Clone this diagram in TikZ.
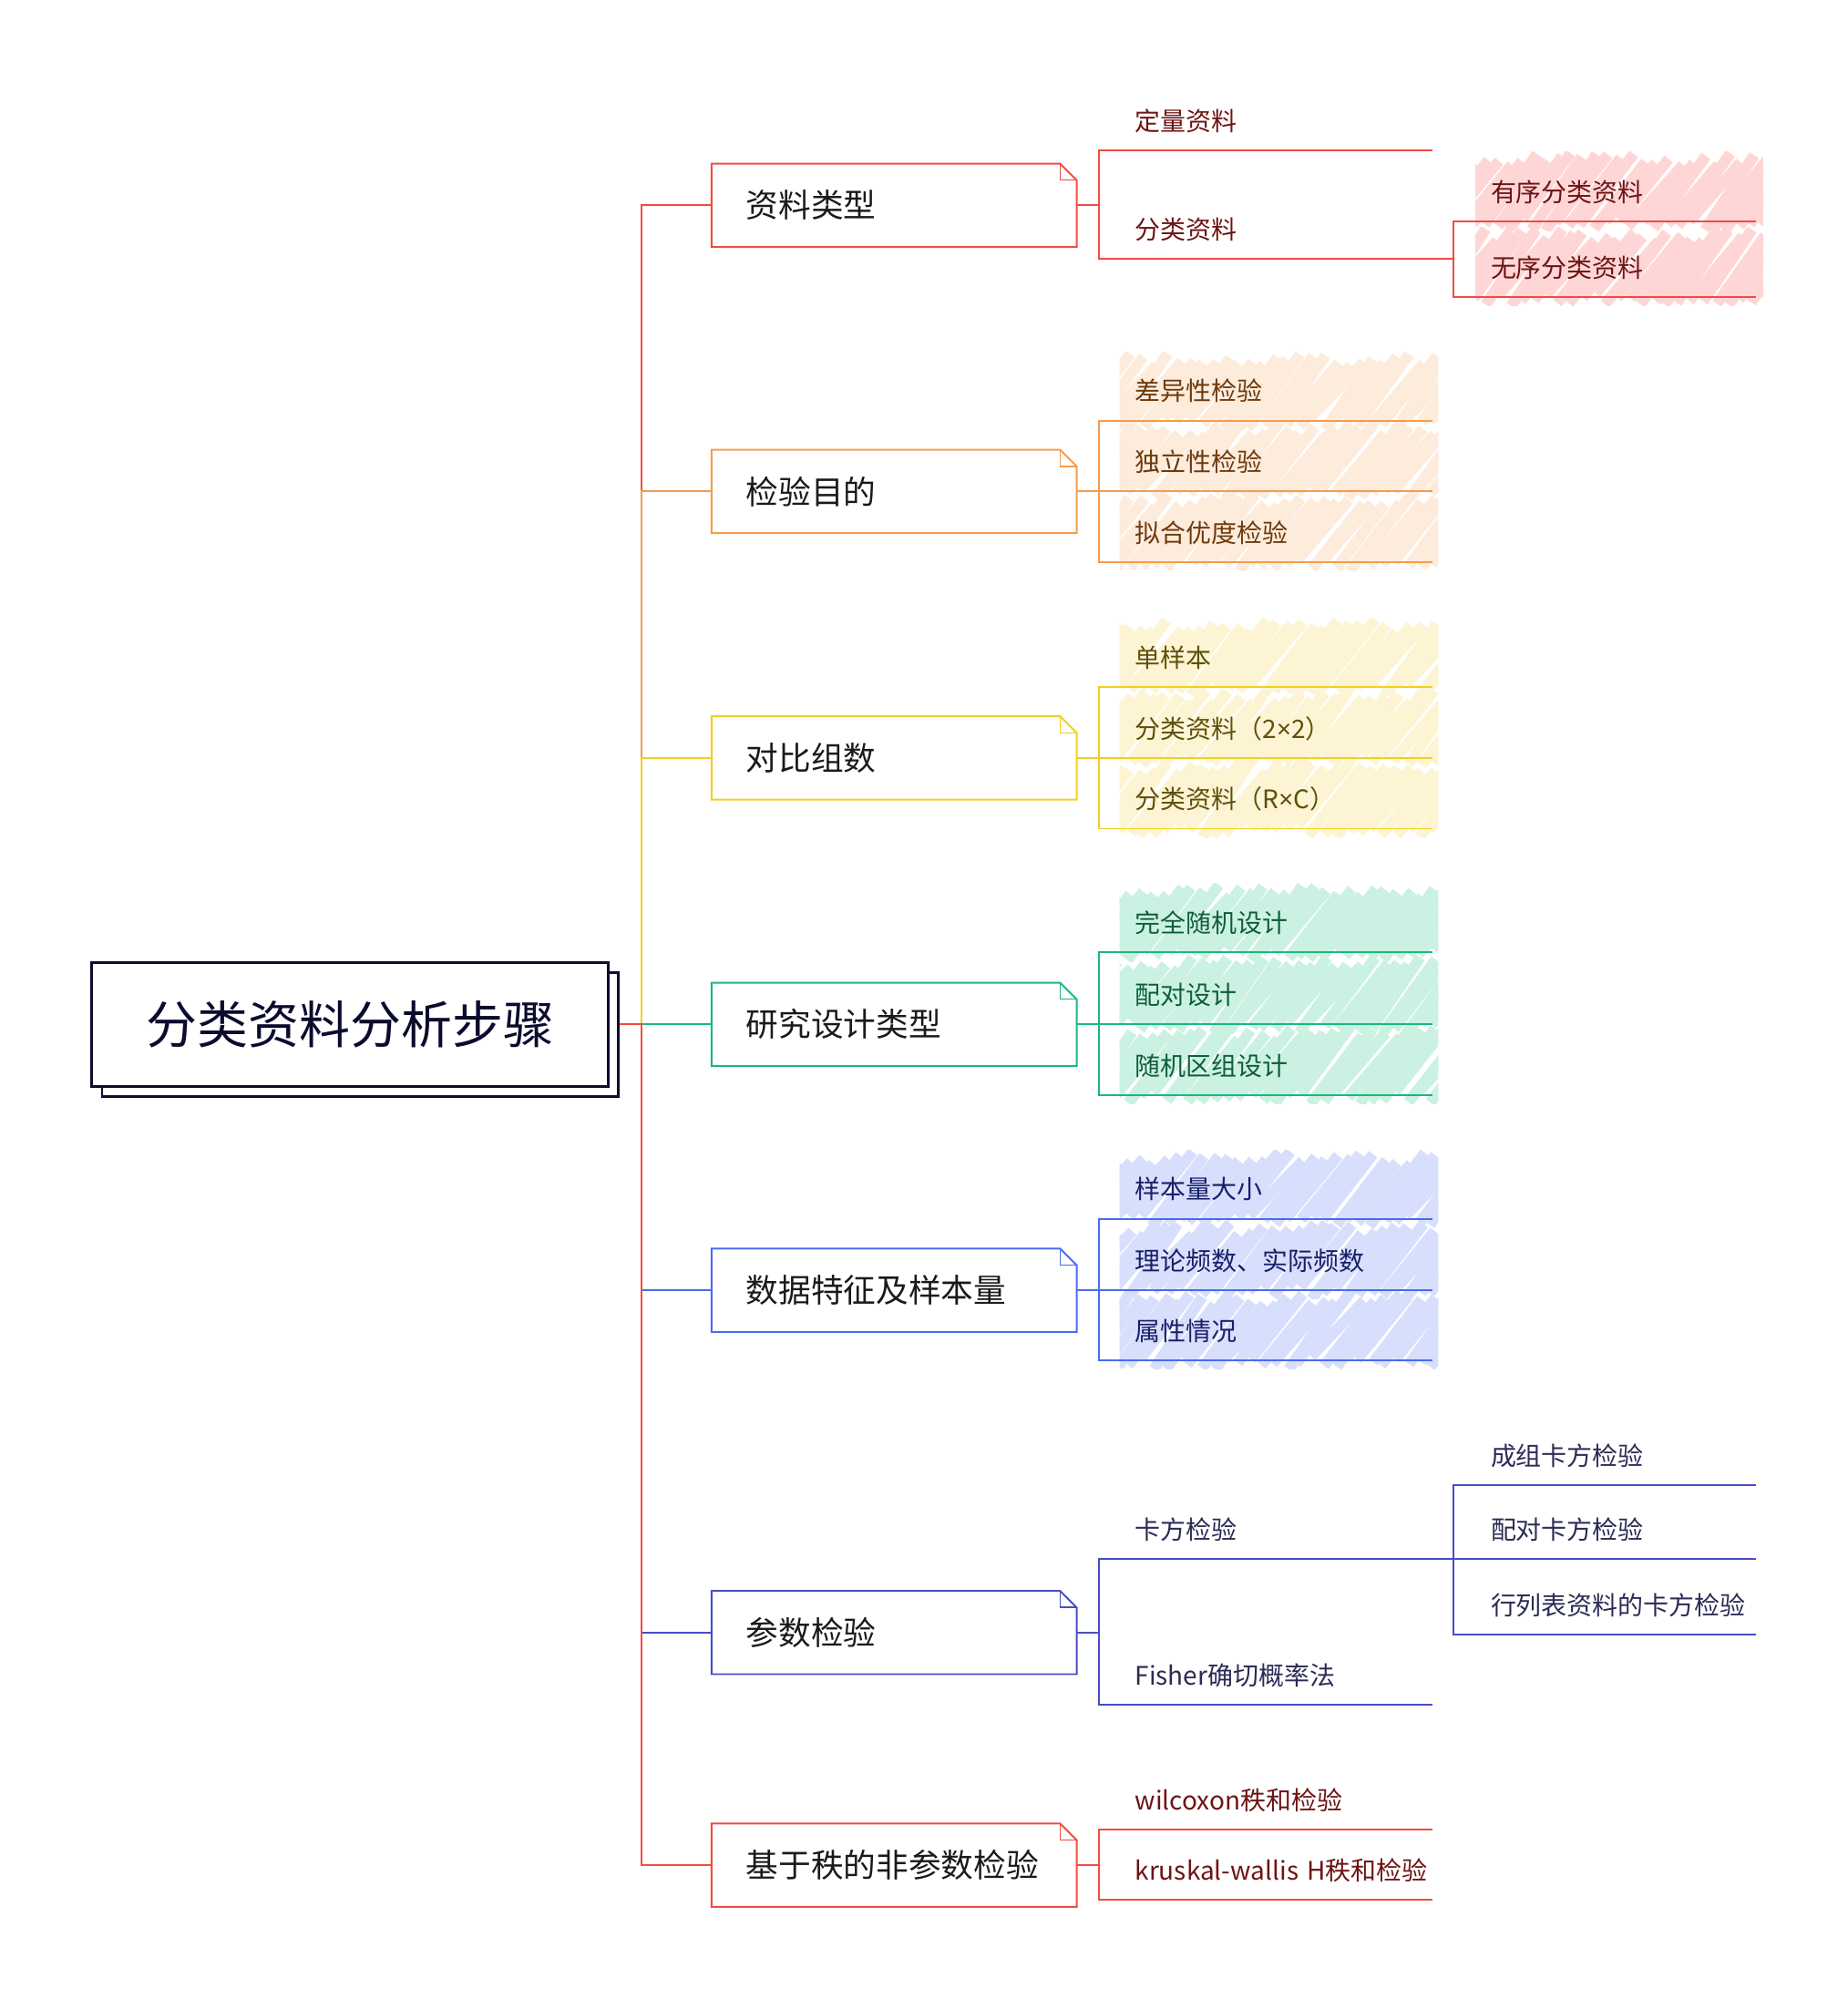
\documentclass[tikz,border=0pt]{standalone}
\usepackage{fontspec}
\setmainfont{Noto Sans CJK SC}
\newfontfamily\latinfont{Noto Sans}
\usetikzlibrary{shadows}
\definecolor{rootC}{HTML}{0B0B2E}
\definecolor{childT}{HTML}{1A1A1A}
\definecolor{rL}{HTML}{F24B42}\definecolor{rT}{HTML}{6E1414}\definecolor{rH}{HTML}{FFD6D6}
\definecolor{oL}{HTML}{F59C4A}\definecolor{oT}{HTML}{6E3A0C}\definecolor{oH}{HTML}{FDEBDC}
\definecolor{yL}{HTML}{F2CF1F}\definecolor{yT}{HTML}{5F500A}\definecolor{yH}{HTML}{FCF4D3}
\definecolor{gL}{HTML}{17B97C}\definecolor{gT}{HTML}{0F5E3C}\definecolor{gH}{HTML}{CBF1E2}
\definecolor{bL}{HTML}{4C6AF0}\definecolor{bT}{HTML}{17206A}\definecolor{bH}{HTML}{D8DFFC}
\definecolor{iL}{HTML}{4A4CC4}\definecolor{iT}{HTML}{2B2B55}
\newcommand\timesx{{\latinfont ×}}
\newcommand\hatchband[5]{%
  \begin{scope}
  \clip (#1,#2-7) rectangle (#3,#4+6);
  \pgfmathtruncatemacro\hbn{(#3-#1+45)/9.5}
  \foreach \k in {0,...,\hbn}{
    \pgfmathsetmacro\hbx{#1-40+\k*9.5}
    \draw[#5, line width=8.6pt] ({\hbx+2*rand},{#4+1+5*rand}) -- ({\hbx+40+2*rand},{#2-1+5*rand});
  }
  \end{scope}}
\newcommand\foldbox[2]{%
  \draw[#2, line width=1.4pt] (#1.north west) -- ([xshift=-13pt]#1.north east) -- ([yshift=-13pt]#1.north east) -- (#1.south east) -- (#1.south west) -- cycle;
  \draw[#2, line width=1pt] ([xshift=-13pt]#1.north east) |- ([yshift=-13pt]#1.north east);}
\begin{document}
\begin{tikzpicture}[x=1pt,y=-1pt,
  conn/.style={line width=1.4pt},
  rootbox/.style={draw=rootC, fill=white, line width=2pt, minimum width=405pt, minimum height=97pt, inner sep=0pt,
    text=rootC, font=\fontsize{40}{48}\selectfont,
    copy shadow={shadow xshift=8pt, shadow yshift=-8pt, draw=rootC, fill=white, line width=2pt}},
  childbox/.style={anchor=west, text width=286pt, minimum height=65pt, inner sep=0pt, align=left, text=childT,
    font=\fontsize{25.5}{30}\selectfont, execute at begin node={\hspace*{27pt}}},
  leafB/.style={anchor=south west, text width=261pt, minimum height=46pt, inner sep=0pt, align=left,
    font=\fontsize{20}{24}\selectfont, execute at begin node={\hspace*{28pt}}},
  leafC/.style={anchor=south west, text width=237pt, minimum height=46pt, inner sep=0pt, align=left,
    font=\fontsize{20}{24}\selectfont, execute at begin node={\hspace*{29pt}}}
]
\useasboundingbox (0,0) rectangle (1449,1568);
\pgfmathsetseed{7}
% hatches
\hatchband{1157}{126}{1383}{175}{rH}
\hatchband{1157}{185}{1383}{234}{rH}
\foreach \u in {330,385.5,441}{\hatchband{878}{\u-47}{1128}{\u+1}{oH}}
\foreach \u in {539,594.5,650}{\hatchband{878}{\u-47}{1128}{\u+1}{yH}}
\foreach \u in {747,803.5,859}{\hatchband{878}{\u-47}{1128}{\u+1}{gH}}
\foreach \u in {956,1012,1067}{\hatchband{878}{\u-47}{1128}{\u+1}{bH}}

% root
\node[rootbox] (root) at (274.5,803.5) {分类资料分析步骤};
\coordinate (tr) at (503,803.5);

% children
\node[childbox] (c1) at (558,161) {资料类型};
\node[childbox] (c2) at (558,385.5) {检验目的};
\node[childbox] (c3) at (558,594.5) {对比组数};
\node[childbox] (c4) at (558,803.5) {研究设计类型};
\node[childbox] (c5) at (558,1012) {数据特征及样本量};
\node[childbox] (c6) at (558,1280.5) {参数检验};
\node[childbox] (c7) at (558,1463) {基于秩的非参数检验};
\foldbox{c1}{rL}\foldbox{c2}{oL}\foldbox{c3}{yL}\foldbox{c4}{gL}
\foldbox{c5}{bL}\foldbox{c6}{iL}\foldbox{c7}{rL}

% trunk
\draw[conn, rL] (tr) |- (c1.west);
\draw[conn, oL] (tr) |- (c2.west);
\draw[conn, yL] (tr) |- (c3.west);
\draw[conn, gL] (tr) -- (c4.west);
\draw[conn, bL] (tr) |- (c5.west);
\draw[conn, iL] (tr) |- (c6.west);
\draw[conn, rL] ([xshift=8pt]root.east) -- (tr) |- (c7.west);

% group 1
\node[leafB, text=rT] (l11) at (862,118) {定量资料};
\node[leafB, text=rT] (l12) at (862,203) {分类资料};
\node[leafC, text=rT] (l121) at (1140,174) {有序分类资料};
\node[leafC, text=rT] (l122) at (1140,233) {无序分类资料};
\draw[conn, rL] (c1.east) -- (c1.east -| l11.south west);
\draw[conn, rL] (l11.south east) -- (l11.south west) -- (l12.south west) -- (l12.south east);
\draw[conn, rL] (l12.south east) -- (l12.south east -| l121.south west);
\draw[conn, rL] (l121.south east) -- (l121.south west) -- (l122.south west) -- (l122.south east);

% group 2
\node[leafB, text=oT] (l21) at (862,330) {差异性检验};
\node[leafB, text=oT] (l22) at (862,385.5) {独立性检验};
\node[leafB, text=oT] (l23) at (862,441) {拟合优度检验};
\draw[conn, oL] (c2.east) -- (c2.east -| l21.south west);
\draw[conn, oL] (l21.south east) -- (l21.south west) -- (l23.south west) -- (l23.south east);
\draw[conn, oL] (l22.south west) -- (l22.south east);

% group 3
\node[leafB, text=yT] (l31) at (862,539) {单样本};
\node[leafB, text=yT] (l32) at (862,594.5) {分类资料（2\timesx 2）};
\node[leafB, text=yT] (l33) at (862,650) {分类资料（R\timesx C）};
\draw[conn, yL] (c3.east) -- (c3.east -| l31.south west);
\draw[conn, yL] (l31.south east) -- (l31.south west) -- (l33.south west) -- (l33.south east);
\draw[conn, yL] (l32.south west) -- (l32.south east);

% group 4
\node[leafB, text=gT] (l41) at (862,747) {完全随机设计};
\node[leafB, text=gT] (l42) at (862,803.5) {配对设计};
\node[leafB, text=gT] (l43) at (862,859) {随机区组设计};
\draw[conn, gL] (c4.east) -- (c4.east -| l41.south west);
\draw[conn, gL] (l41.south east) -- (l41.south west) -- (l43.south west) -- (l43.south east);
\draw[conn, gL] (l42.south west) -- (l42.south east);

% group 5
\node[leafB, text=bT] (l51) at (862,956) {样本量大小};
\node[leafB, text=bT] (l52) at (862,1012) {理论频数、实际频数};
\node[leafB, text=bT] (l53) at (862,1067) {属性情况};
\draw[conn, bL] (c5.east) -- (c5.east -| l51.south west);
\draw[conn, bL] (l51.south east) -- (l51.south west) -- (l53.south west) -- (l53.south east);
\draw[conn, bL] (l52.south west) -- (l52.south east);

% group 6
\node[leafB, text=iT] (l61) at (862,1223) {卡方检验};
\node[leafB, text=iT] (l62) at (862,1337) {Fisher确切概率法};
\node[leafC, text=iT] (l611) at (1140,1165) {成组卡方检验};
\node[leafC, text=iT] (l612) at (1140,1223) {配对卡方检验};
\node[leafC, text=iT] (l613) at (1140,1282) {行列表资料的卡方检验};
\draw[conn, iL] (c6.east) -- (c6.east -| l61.south west);
\draw[conn, iL] (l61.south east) -- (l61.south west) -- (l62.south west) -- (l62.south east);
\draw[conn, iL] (l61.south east) -- (l61.south east -| l611.south west);
\draw[conn, iL] (l611.south east) -- (l611.south west) -- (l613.south west) -- (l613.south east);
\draw[conn, iL] (l612.south west) -- (l612.south east);

% group 7
\node[leafB, text=rT] (l71) at (862,1435) {wilcoxon秩和检验};
\node[leafB, text=rT] (l72) at (862,1490) {kruskal-wallis H秩和检验};
\draw[conn, rL] (c7.east) -- (c7.east -| l71.south west);
\draw[conn, rL] (l71.south east) -- (l71.south west) -- (l72.south west) -- (l72.south east);
\end{tikzpicture}
\end{document}
